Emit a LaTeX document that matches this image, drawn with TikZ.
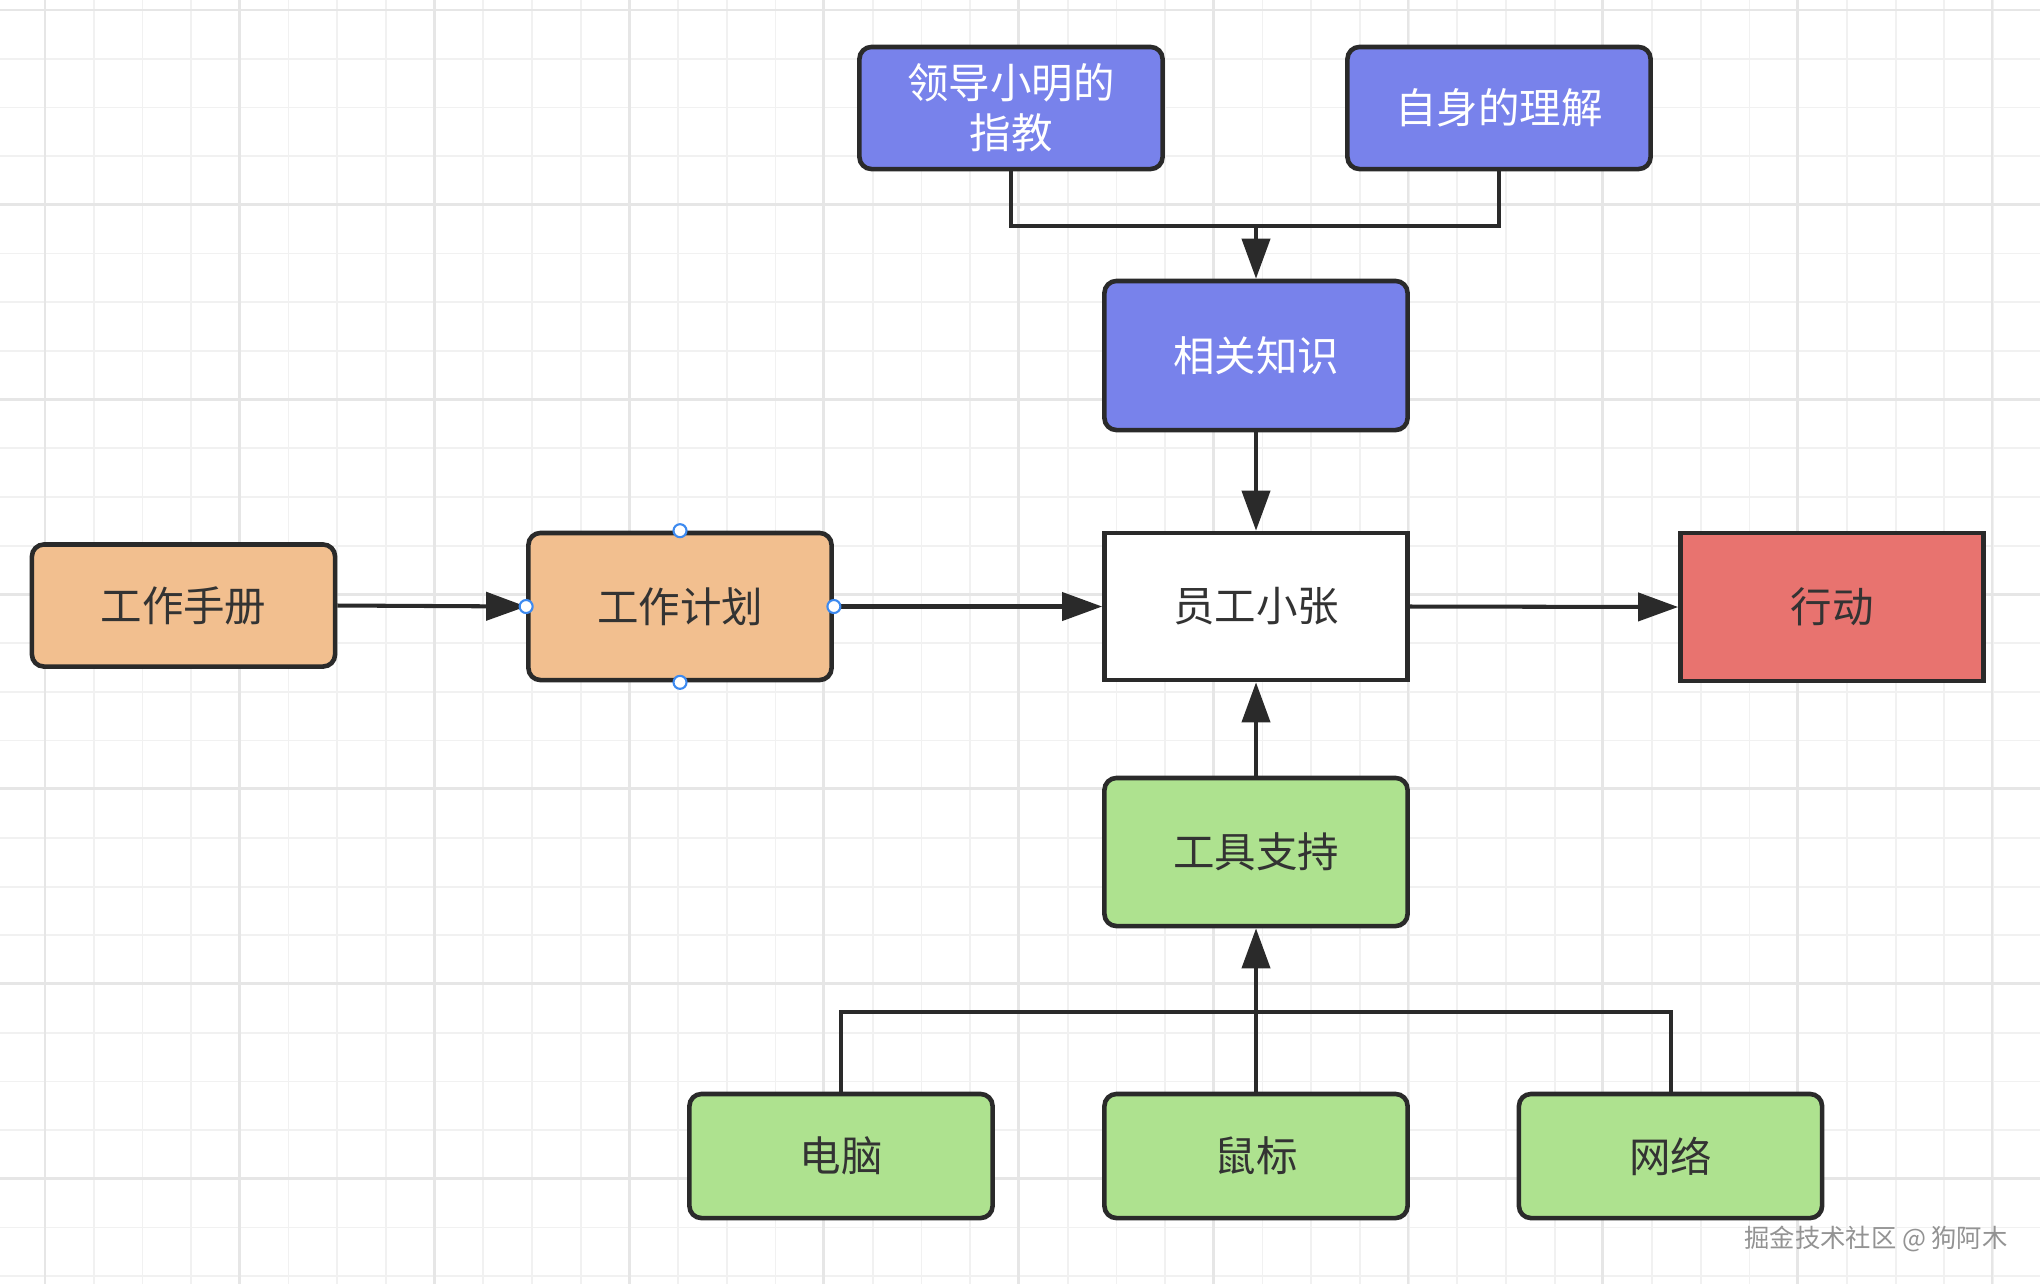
\documentclass[tikz,border=0pt]{standalone}
\usepackage{fontspec}
\setmainfont{Noto Sans CJK SC}
\usetikzlibrary{arrows.meta}

\definecolor{gridminor}{HTML}{F1F1F1}
\definecolor{gridmajor}{HTML}{E6E6E6}
\definecolor{boxline}{HTML}{2A2A2A}
\definecolor{txtdark}{HTML}{333333}
\definecolor{fillblue}{HTML}{7882EB}
\definecolor{fillorange}{HTML}{F2BF8F}
\definecolor{fillgreen}{HTML}{AEE28F}
\definecolor{fillred}{HTML}{E8736F}
\definecolor{handleblue}{HTML}{3D8AF0}

\tikzset{
  box/.style={draw=boxline, line width=1.3pt, rounded corners=0.12cm,
    minimum width=3.03cm, inner sep=0pt, align=center, text=txtdark,
    font=\fontsize{11.8}{14.2}\selectfont},
  bluebox/.style={box, fill=fillblue, text=white},
  orangebox/.style={box, fill=fillorange},
  greenbox/.style={box, fill=fillgreen},
  plainbox/.style={box, sharp corners, fill=white},
  redbox/.style={box, sharp corners, fill=fillred},
  link/.style={draw=boxline, line width=1.15pt},
  arrow/.style={link, -{Triangle[length=0.4cm,width=0.28cm]}},
  handle/.style={circle, draw=handleblue, fill=white, line width=0.6pt,
    minimum size=0.13cm, inner sep=0pt}
}

\begin{document}
\begin{tikzpicture}[x=0.01cm, y=-0.01cm]
  % Canvas and grid
  \fill[white] (0,0) rectangle (2040,1284);
  \useasboundingbox (0,0) rectangle (2040,1284);
  \foreach \i in {0,...,42}
    \draw[gridminor, line width=0.5pt] (-3.7+48.7*\i,0) -- (-3.7+48.7*\i,1284);
  \foreach \j in {0,...,26}
    \draw[gridminor, line width=0.5pt] (0,10+48.7*\j) -- (2040,10+48.7*\j);
  \foreach \i in {0,...,10}
    \draw[gridmajor, line width=0.8pt] (45+194.7*\i,0) -- (45+194.7*\i,1284);
  \foreach \j in {0,...,6}
    \draw[gridmajor, line width=0.8pt] (0,10+194.7*\j) -- (2040,10+194.7*\j);

  % Sources of knowledge
  \node[bluebox, minimum height=1.22cm] (lead) at (1011,108) {领导小明的\\指教};
  \node[bluebox, minimum height=1.22cm] (self) at (1499,108) {自身的理解};
  \node[bluebox, minimum height=1.49cm] (know) at (1256,355.5) {相关知识};

  % Middle row
  \node[orangebox, minimum height=1.22cm] (manual) at (183.5,605.5) {工作手册};
  \node[orangebox, minimum height=1.47cm] (plan) at (680,606.5) {工作计划};
  \node[plainbox, minimum height=1.47cm] (staff) at (1256,606.5) {员工小张};
  \node[redbox, minimum height=1.48cm] (act) at (1832,607) {行动};

  % Tools
  \node[greenbox, minimum height=1.48cm] (tool) at (1256,852) {工具支持};
  \node[greenbox, minimum height=1.24cm] (pc) at (841,1156) {电脑};
  \node[greenbox, minimum height=1.24cm] (mouse) at (1256,1156) {鼠标};
  \node[greenbox, minimum height=1.24cm] (net) at (1670.5,1156) {网络};

  % Joins of the tree connectors
  \coordinate (topjoin) at (1256,226);
  \coordinate (botjoin) at (1256,1012);

  % Connectors
  \draw[link] (lead.south) |- (topjoin) -| (self.south);
  \draw[arrow] (topjoin) -- (know.north);
  \draw[arrow] (know.south) -- (staff.north);
  \draw[arrow] (manual.east) -- (plan.west);
  \draw[arrow] (plan.east) -- (staff.west);
  \draw[arrow] (staff.east) -- (act.west);
  \draw[arrow] (tool.north) -- (staff.south);
  \draw[link] (pc.north) |- (botjoin) -| (net.north);
  \draw[arrow] (mouse.north) -- (tool.south);

  % Selection handles on the plan box
  \node[handle] (hn) at (plan.north) {};
  \node[handle] (hs) at (plan.south) {};
  \node[handle] (he) at (plan.east) {};
  \node[handle] (hw) at (plan.west) {};

  % Watermark
  \node[text=gray!85, font=\fontsize{7.2}{8}\selectfont] (mark) at (1876,1239)
    {掘金技术社区 @ 狗阿木};
\end{tikzpicture}
\end{document}
